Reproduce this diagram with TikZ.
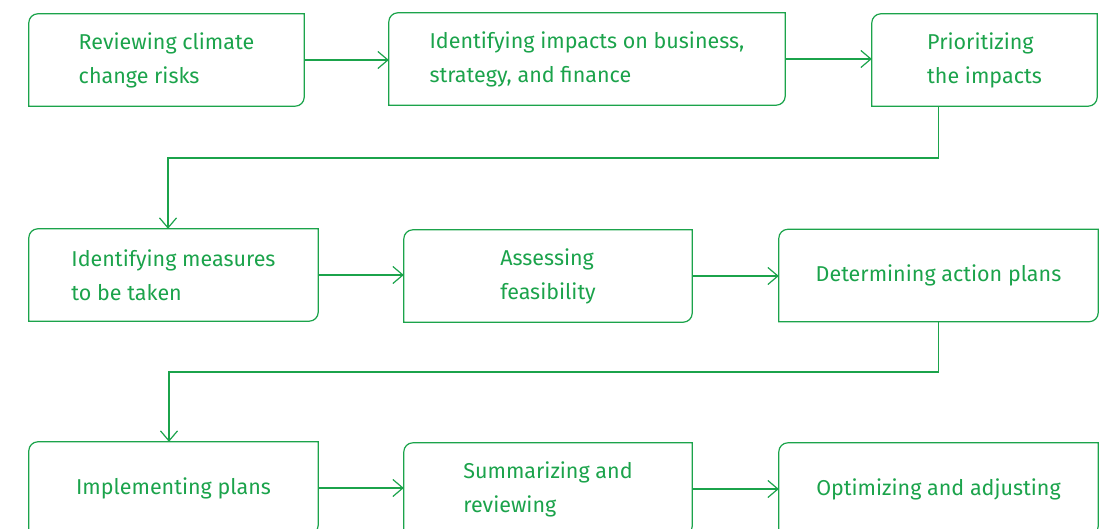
\documentclass[tikz,border=0pt]{standalone}
\usepackage{fontspec}
\setmainfont{Fira Sans}
\usetikzlibrary{arrows.meta}
\definecolor{stepgreen}{RGB}{27,163,75}

\newcommand{\stepoutline}[1]{%
	\draw[boxline] ([yshift=-9pt]#1.north west) arc[start angle=180, end angle=90, radius=9pt]
		-- (#1.north east) -- ([yshift=9pt]#1.south east) arc[start angle=0, end angle=-90, radius=9pt]
		-- (#1.south west) -- cycle;}

\begin{document}
\begin{tikzpicture}[x=1pt, y=1pt, >={Straight Barb[length=10pt, width=17pt]},
	stepbox/.style={inner sep=0pt, minimum height=92pt, text=stepgreen,
		font=\fontsize{21.5}{34}\selectfont, align=left},
	boxline/.style={draw=stepgreen, line width=1.2pt},
	link/.style={draw=stepgreen, line width=1.2pt, ->}]
	\useasboundingbox (0, 0) rectangle (1103, -529);
	\clip (0, 0) rectangle (1103, -529);

	% first row
	\node[stepbox, minimum width=275pt] (review) at (166.5, -60) {Reviewing climate\\change risks};
	\node[stepbox, minimum width=396pt] (impacts) at (587, -59) {Identifying impacts on business,\\strategy, and finance};
	\node[stepbox, minimum width=225pt] (prioritize) at (984.5, -60) {Prioritizing\\the impacts};

	% second row
	\node[stepbox, minimum width=289pt] (measures) at (173.5, -275) {Identifying measures\\to be taken};
	\node[stepbox, minimum width=288pt] (assess) at (548, -276) {Assessing\\feasibility};
	\node[stepbox, minimum width=319pt] (plans) at (938.5, -275.5) {Determining action plans};

	% third row
	\node[stepbox, minimum width=289pt] (implement) at (173.5, -488) {Implementing plans};
	\node[stepbox, minimum width=288pt] (summary) at (548, -489) {Summarizing and\\reviewing};
	\node[stepbox, minimum width=319pt] (optimize) at (938.5, -489) {Optimizing and adjusting};

	\foreach \n in {review, impacts, prioritize, measures, assess, plans, implement, summary, optimize}
		\stepoutline{\n};

	\coordinate (bend1) at (168, -158);
	\coordinate (bend2) at (169, -372);

	\draw[link] (review.east) -- (review.east -| impacts.west);
	\draw[link] (impacts.east) -- (impacts.east -| prioritize.west);
	\draw[link] (prioritize.south -| plans.south) |- (bend1) -- (bend1 |- measures.north);

	\draw[link] (measures.east) -- (measures.east -| assess.west);
	\draw[link] (assess.east) -- (assess.east -| plans.west);
	\draw[link] (plans.south) |- (bend2) -- (bend2 |- implement.north);

	\draw[link] (implement.east) -- (implement.east -| summary.west);
	\draw[link] (summary.east) -- (summary.east -| optimize.west);
\end{tikzpicture}
\end{document}
